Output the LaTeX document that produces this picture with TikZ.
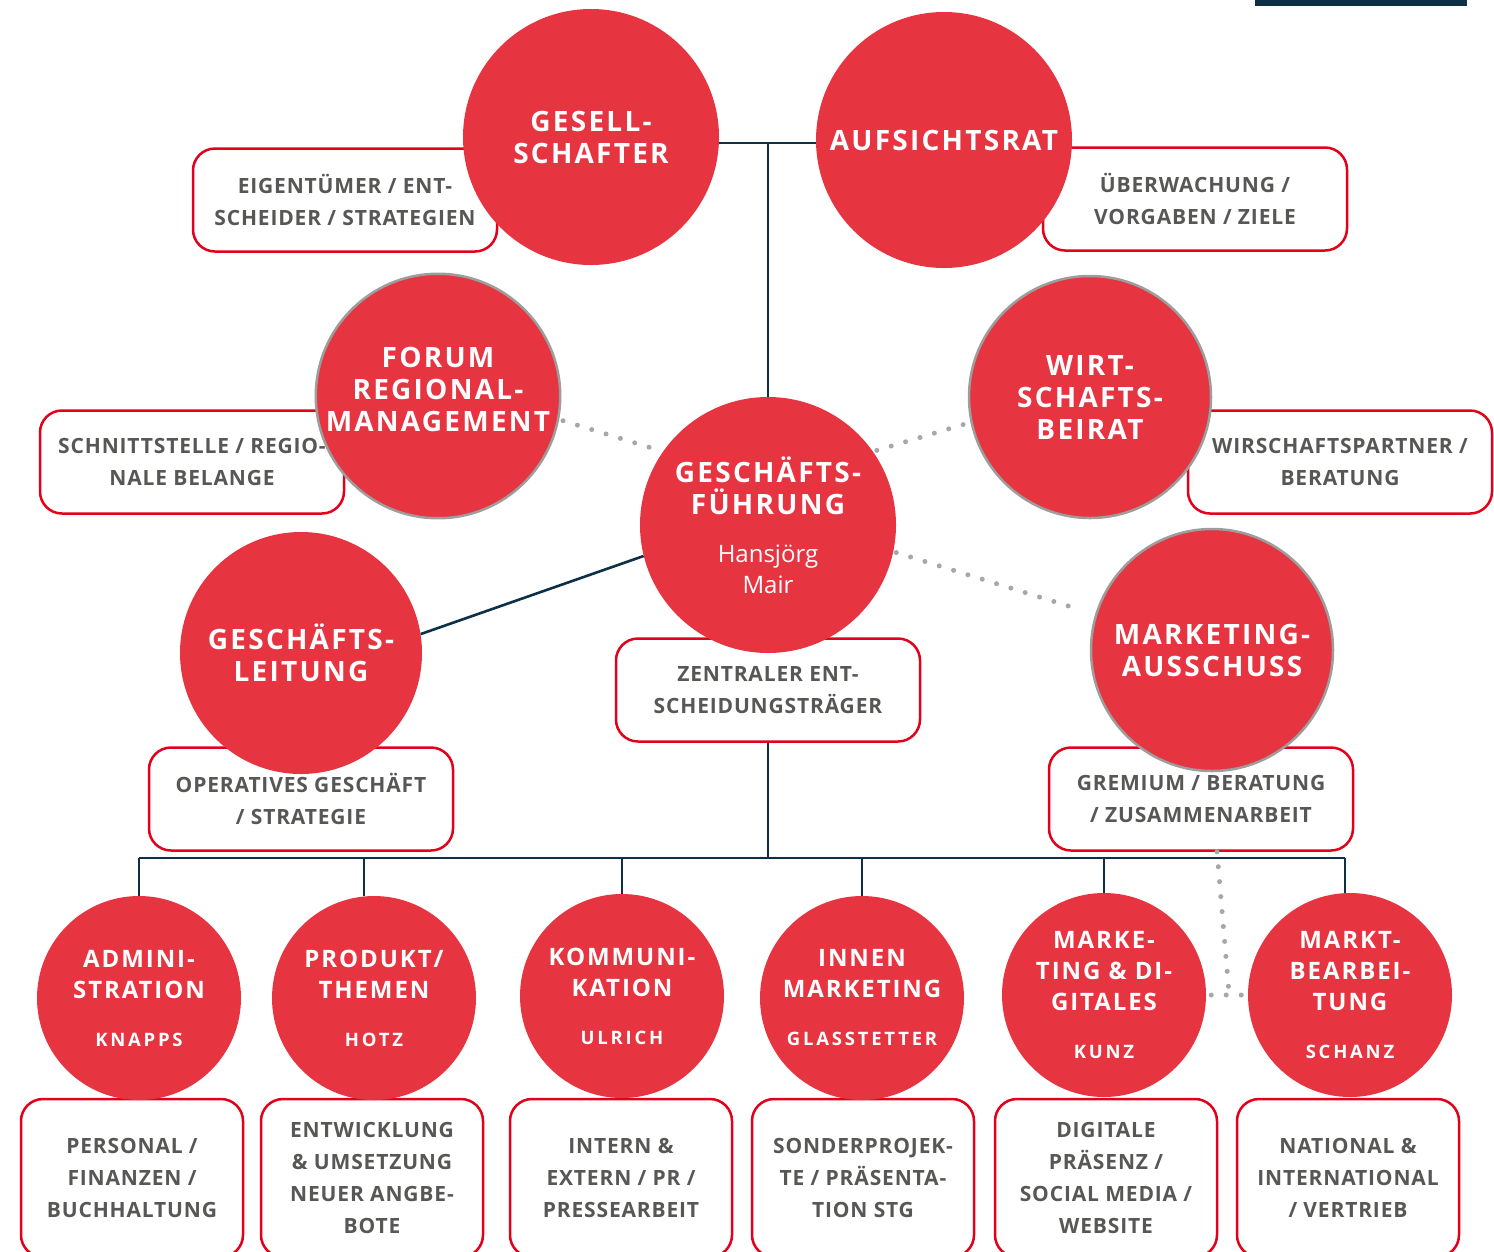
\documentclass[tikz,border=0pt]{standalone}
\usepackage{fontspec}
\setmainfont{Open Sans}
\newfontfamily\unitfont[LetterSpace=8]{Open Sans}
\newfontfamily\headfont[LetterSpace=15]{Open Sans}
\newfontfamily\taskfont[LetterSpace=4]{Open Sans}
\usepackage{tikz}
\usepackage{xcolor}
\definecolor{orgred}{HTML}{E63441}
\definecolor{framered}{HTML}{E2001A}
\definecolor{navy}{HTML}{0D3047}
\definecolor{boxtext}{HTML}{575756}
\definecolor{ringgray}{HTML}{9D9D9C}
\definecolor{dotgray}{HTML}{A7A7A7}
\tikzstyle{unit}=[circle,fill=orgred,text=white,align=center,inner sep=0pt]
\tikzstyle{big unit}=[unit,minimum size=256pt,font=\unitfont\bfseries\fontsize{28}{32}\selectfont]
\tikzstyle{mid unit}=[big unit,minimum size=242pt]
\tikzstyle{small unit}=[unit,minimum size=204pt,font=\unitfont\bfseries\fontsize{24}{31}\selectfont]
\tikzstyle{ring}=[draw=ringgray,line width=2.5pt]
\tikzstyle{task}=[draw=framered,line width=2.5pt,rounded corners=22pt,fill=white,minimum width=304pt,minimum height=103pt,align=center,text=boxtext,font=\taskfont\bfseries\fontsize{21}{32}\selectfont]
\tikzstyle{small task}=[task,minimum width=222pt,minimum height=158pt]
\tikzstyle{link}=[navy,line width=2.6pt]
\tikzstyle{loose link}=[dotgray,line width=5pt,line cap=round,dash pattern=on 0pt off 15pt]
\newcommand{\personname}[1]{{\normalfont\fontsize{24}{30}\selectfont #1}}
\newcommand{\headname}[1]{{\headfont\fontsize{18.5}{22}\selectfont #1}}

\begin{document}
\begin{tikzpicture}[x=1pt,y=-1pt]
  \useasboundingbox (0,0) rectangle (1494,1251);
  \fill[navy] (1255,0) rectangle (1467,6);

  % aufgaben
  \node[task] (eig) at (345,200) {EIGENTÜMER / ENT-\\SCHEIDER / STRATEGIEN};
  \node[task] (ueb) at (1195,199) {ÜBERWACHUNG /\\VORGABEN / ZIELE};
  \node[task] (schn) at (192,462) {SCHNITTSTELLE / REGIO-\\NALE BELANGE};
  \node[task] (wipa) at (1340,462) {WIRSCHAFTSPARTNER /\\BERATUNG};
  \node[task] (zent) at (768,690) {ZENTRALER ENT-\\SCHEIDUNGSTRÄGER};
  \node[task] (oper) at (301,799) {OPERATIVES GESCHÄFT\\/ STRATEGIE};
  \node[task] (grem) at (1201,799) {GREMIUM / BERATUNG\\/ ZUSAMMENARBEIT};

  \node[small task] (admt) at (132,1178) {PERSONAL /\\FINANZEN /\\BUCHHALTUNG};
  \node[small task] (prodt) at (372,1178) {ENTWICKLUNG\\\& UMSETZUNG\\NEUER ANGBE-\\BOTE};
  \node[small task] (kommt) at (621,1178) {INTERN \&\\EXTERN / PR /\\PRESSEARBEIT};
  \node[small task] (innent) at (863,1178) {SONDERPROJEK-\\TE / PRÄSENTA-\\TION STG};
  \node[small task] (madit) at (1106,1178) {DIGITALE\\PRÄSENZ /\\SOCIAL MEDIA /\\WEBSITE};
  \node[small task] (marktt) at (1348,1178) {NATIONAL \&\\INTERNATIONAL\\/ VERTRIEB};

  % gremien
  \node[big unit] (ges) at (591,137) {GESELL-\\SCHAFTER};
  \node[big unit] (auf) at (944,140) {AUFSICHTSRAT};
  \node[mid unit,ring] (forum) at (438,396) {FORUM\\REGIONAL-\\MANAGEMENT\\[-18pt]\mbox{}};
  \node[mid unit,ring] (wirt) at (1090,397) {WIRT-\\SCHAFTS-\\BEIRAT};
  \node[big unit] (gf) at (768,525) {GESCHÄFTS-\\FÜHRUNG\\[16pt]\personname{Hansjörg}\\[-1pt]\personname{Mair}};
  \node[mid unit] (gl) at (301,653) {GESCHÄFTS-\\LEITUNG};
  \node[mid unit,ring] (ma) at (1212,650) {MARKETING-\\AUSSCHUSS};

  % abteilungen
  \node[small unit] (adm) at (139,998) {ADMINI-\\STRATION\\[17pt]\headname{KNAPPS}};
  \node[small unit] (prod) at (374,998) {PRODUKT/\\THEMEN\\[17pt]\headname{HOTZ}};
  \node[small unit] (komm) at (622,996) {KOMMUNI-\\KATION\\[17pt]\headname{ULRICH}};
  \node[small unit] (innen) at (862,998) {INNEN\\MARKETING\\[17pt]\headname{GLASSTETTER}};
  \node[small unit] (madi) at (1104,995) {MARKE-\\TING \& DI-\\GITALES\\[17pt]\headname{KUNZ}};
  \node[small unit] (markt) at (1350,995) {MARKT-\\BEARBEI-\\TUNG\\[17pt]\headname{SCHANZ}};

  % linien
  \coordinate (top) at (768,143);
  \coordinate (busL) at (139,858);
  \coordinate (busR) at (1345,858);
  \draw[link] (top -| ges.east) -- (top -| auf.west);
  \draw[link] (top) -- (gf);
  \draw[link] (gl.9.5) -- (gf.194);
  \draw[link] (zent.south) -- (zent.south |- busL);
  \draw[link] (busL) -- (busR);
  \foreach \u/\x in {adm/139,prod/364,komm/622,innen/862,madi/1104,markt/1345}
    \draw[link] (\x,858) -- (\x,0 |- \u.north);

  % punktlinien
  \draw[loose link,shorten <=4pt,shorten >=4pt] (forum.-11) -- (gf.145);
  \draw[loose link,shorten <=4pt,shorten >=4pt] (gf.35) -- (wirt.192);
  \draw[loose link,shorten <=3pt,shorten >=24pt] (gf.-12) -- (ma.163);
  \coordinate (knot) at (1229,993);
  \draw[loose link] ([xshift=16pt]grem.south) -- (knot);
  \draw[loose link,shorten <=5pt,shorten >=3pt] (madi.east) -- (markt.west);
\end{tikzpicture}
\end{document}
